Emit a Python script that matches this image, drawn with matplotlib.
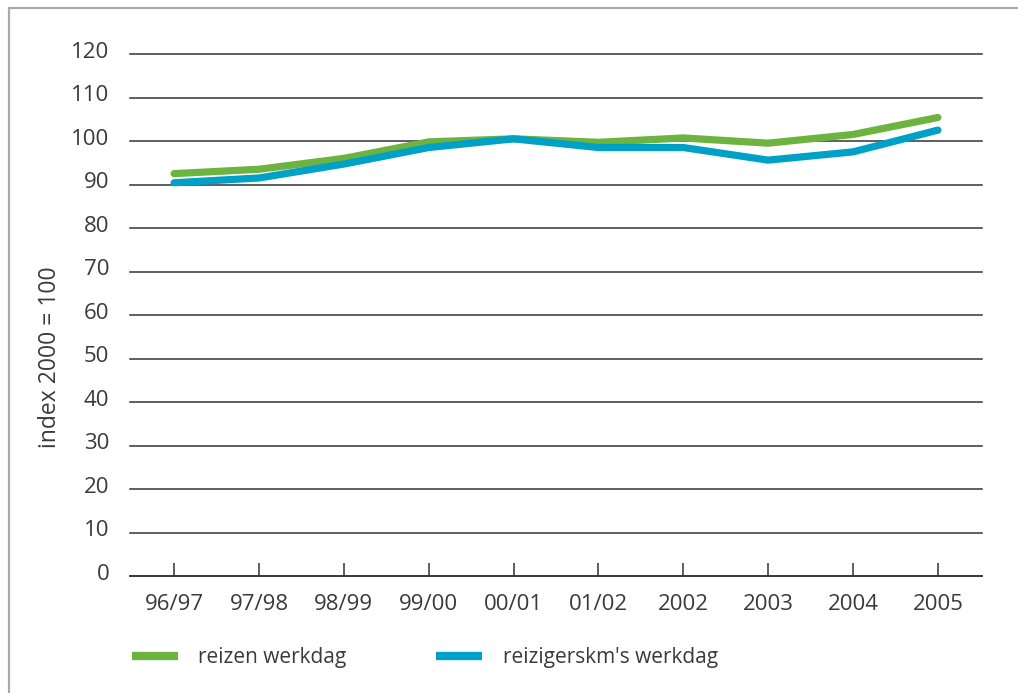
import matplotlib
matplotlib.use("Agg")
import matplotlib.pyplot as plt
from matplotlib.patches import Rectangle
from matplotlib.transforms import ScaledTranslation

# index 2000 = 100, per workday
seasons = ["96/97", "97/98", "98/99", "99/00", "00/01", "01/02", "2002", "2003", "2004", "2005"]
reizen = [92.5, 93.5, 96.0, 99.8, 100.5, 99.7, 100.7, 99.5, 101.5, 105.4]
reizigerskm = [90.4, 91.5, 94.7, 98.5, 100.5, 98.5, 98.5, 95.6, 97.5, 102.5]
yticks = list(range(0, 121, 10))

green = "#6db33f"
blue = "#00a1c6"
text_col = "#3a3a3a"

plt.rcParams["font.family"] = ["Open Sans", "DejaVu Sans"]

fig = plt.figure(figsize=(10.18, 6.93), dpi=100)
ax = fig.add_axes([130 / 1018, 1 - 576 / 693, 852 / 1018, 522 / 693])

x = range(len(seasons))
ax.plot(x, reizen, color=green, lw=5.2, solid_capstyle="round",
        solid_joinstyle="round", label="reizen werkdag", zorder=3)
ax.plot(x, reizigerskm, color=blue, lw=5.2, solid_capstyle="round",
        solid_joinstyle="round", label="reizigerskm's werkdag", zorder=3)

ax.set_xlim(-0.52, len(seasons) - 1 + 0.52)
ax.set_ylim(0, 120)
ax.set_yticks(yticks)
ax.set_xticks(list(x))
ax.set_xticklabels(seasons)

ax.grid(axis="y", color="#333333", lw=1.1)
for gl in ax.get_ygridlines():
    gl.set_clip_on(False)
ax.set_axisbelow(True)

for side in ["top", "right", "left"]:
    ax.spines[side].set_visible(False)
ax.spines["bottom"].set_color("#333333")
ax.spines["bottom"].set_linewidth(1.1)

ax.tick_params(axis="y", length=0, pad=15, labelsize=16, labelcolor=text_col)
ax.tick_params(axis="x", direction="in", length=9.5, width=1.1, color="#333333",
               pad=13, labelsize=16, labelcolor=text_col)

# y labels sit a little above their gridlines
lift = ScaledTranslation(0, 3 / 72, fig.dpi_scale_trans)
for lbl in ax.get_yticklabels():
    lbl.set_transform(lbl.get_transform() + lift)

fig.text(50 / 1018, 1 - 357 / 693, "index 2000 = 100", rotation=90,
         ha="center", va="center", fontsize=16.5, color=text_col)

leg = fig.legend(loc="center left", bbox_to_anchor=(113 / 1018, 1 - 658 / 693),
                 ncol=2, frameon=False, fontsize=15, handlelength=2.2,
                 handletextpad=1.0, columnspacing=4.3, labelcolor=text_col)
for h in leg.get_lines():
    h.set_linewidth(6)
    h.set_solid_capstyle("butt")

# outer frame: only the left and top edges show
fig.patches.append(Rectangle((9 / 1018, -0.5), 2, 1.5 - 8 / 693,
                             transform=fig.transFigure, fill=False,
                             edgecolor="#aaaaaa", lw=1.6))

fig.savefig("out.png", dpi=100)
